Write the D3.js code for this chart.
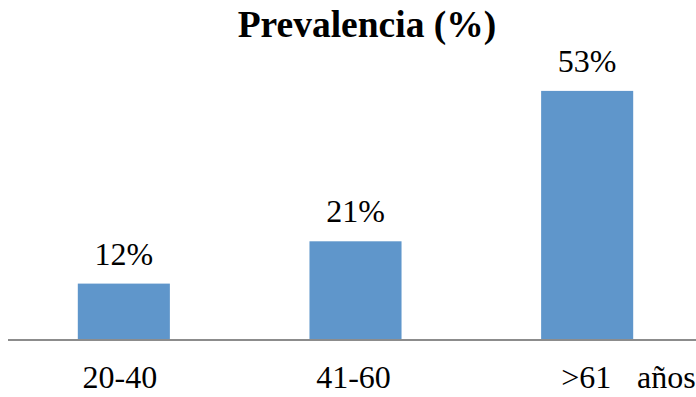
<!DOCTYPE html>
<html>
<head>
<meta charset="utf-8">
<script src="https://cdn.jsdelivr.net/npm/d3@7"></script>
<style>
  html, body { margin: 0; padding: 0; background: #ffffff; }
  svg { display: block; }
</style>
</head>
<body>
<svg id="chart" width="696" height="397"></svg>
<script>
// Age groups and prevalence values (%)
const categories = ["20-40", "41-60", ">61"];
const values = [12, 21, 53];
const unitLabel = "años";
const title = "Prevalencia (%)";

const W = 696, H = 397;
const baseY = 340;
const serif = '"Liberation Serif", "Times New Roman", Times';

const svg = d3.select("#chart");

const x = d3.scaleBand()
  .domain(categories)
  .range([8, 703])
  .paddingInner(0.6026)
  .paddingOuter(0.3013);

const y = d3.scaleLinear()
  .domain([0, 60])
  .range([baseY, baseY - 60 * 4.7]);

// Title
svg.append("text")
  .attr("x", 367)
  .attr("y", 37)
  .attr("text-anchor", "middle")
  .style("font-family", serif)
  .style("font-weight", "bold")
  .style("font-size", "37.5px")
  .attr("fill", "#000")
  .text(title);

// Bars
svg.selectAll("rect.bar")
  .data(values)
  .join("rect")
  .attr("class", "bar")
  .attr("x", (d, i) => x(categories[i]))
  .attr("width", x.bandwidth())
  .attr("y", d => y(d))
  .attr("height", d => y(0) - y(d))
  .attr("fill", "#5f96cb");

// Value labels
svg.selectAll("text.val")
  .data(values)
  .join("text")
  .attr("class", "val")
  .attr("x", (d, i) => x(categories[i]) + x.bandwidth() / 2)
  .attr("y", d => y(d) - 19)
  .attr("text-anchor", "middle")
  .style("font-family", serif)
  .style("font-size", "32px")
  .attr("fill", "#000")
  .text(d => d + "%");

// Category labels under the bars
svg.selectAll("text.cat")
  .data(categories)
  .join("text")
  .attr("class", "cat")
  .attr("x", (d, i) => x(d) + x.bandwidth() / 2 + [-4, -2, -1][i])
  .attr("y", baseY + 48)
  .attr("text-anchor", "middle")
  .style("font-family", serif)
  .style("font-size", "32px")
  .attr("fill", "#000")
  .text(d => d);

// Unit label after the last category
svg.append("text")
  .attr("x", 637)
  .attr("y", baseY + 48)
  .style("font-family", serif)
  .style("font-size", "32px")
  .attr("fill", "#000")
  .text(unitLabel);

// Baseline
svg.append("line")
  .attr("x1", 8)
  .attr("x2", W)
  .attr("y1", baseY)
  .attr("y2", baseY)
  .attr("stroke", "#8c8c8c")
  .attr("stroke-width", 2);
</script>
</body>
</html>
